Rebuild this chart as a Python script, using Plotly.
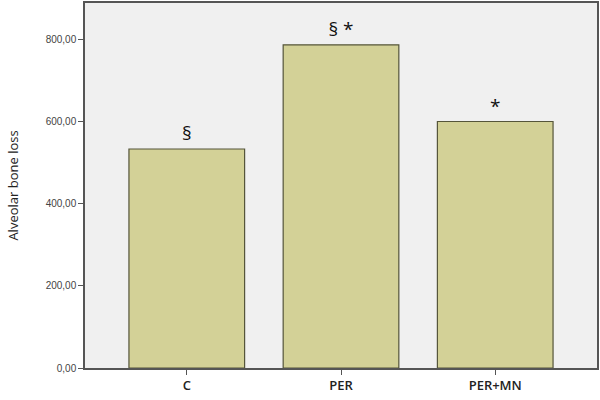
import plotly.graph_objects as go

# données
groups = ["C", "PER", "PER+MN"]
bone_loss = [534, 788, 601]
marks = ["§", "§ *", "*"]
y_ticks = [0, 200, 400, 600, 800]
y_tick_labels = ["0,00", "200,00", "400,00", "600,00", "800,00"]

fig = go.Figure()

fig.add_trace(go.Bar(
    x=groups,
    y=bone_loss,
    width=0.75,
    marker=dict(color="#d3d197", line=dict(color="#55553a", width=1.2)),
    text=marks,
    textposition="outside",
    textfont=dict(family="Open Sans", size=19, color="#111"),
    cliponaxis=False,
    hoverinfo="x+y",
))

fig.update_layout(
    width=600, height=400,
    margin=dict(l=85, r=3, t=1, b=32),
    paper_bgcolor="white",
    plot_bgcolor="#f0f0f0",
    showlegend=False,
    font=dict(family="Liberation Sans"),
)

fig.update_xaxes(
    range=[-0.66, 2.66],
    showline=True, linecolor="#555", linewidth=1.5, mirror=True,
    ticks="outside", tickcolor="#555", ticklen=5,
    tickfont=dict(family="Open Sans", size=13, color="#222", weight=600),
    showgrid=False,
)

fig.update_yaxes(
    range=[0, 890],
    tickvals=y_ticks, ticktext=y_tick_labels,
    showline=True, linecolor="#555", linewidth=1.5, mirror=True,
    ticks="outside", tickcolor="#555", ticklen=5,
    tickfont=dict(family="Liberation Sans", size=10, color="#444"),
    showgrid=False, zeroline=False,
    title=dict(text="Alveolar bone loss", font=dict(family="Open Sans", size=13, color="#222"), standoff=24),
)

# enlever la marge du body pour caler le graphique en haut à gauche
fig.write_html(
    "out.html",
    config={"displayModeBar": False},
    post_script="document.body.style.margin='0';",
)
